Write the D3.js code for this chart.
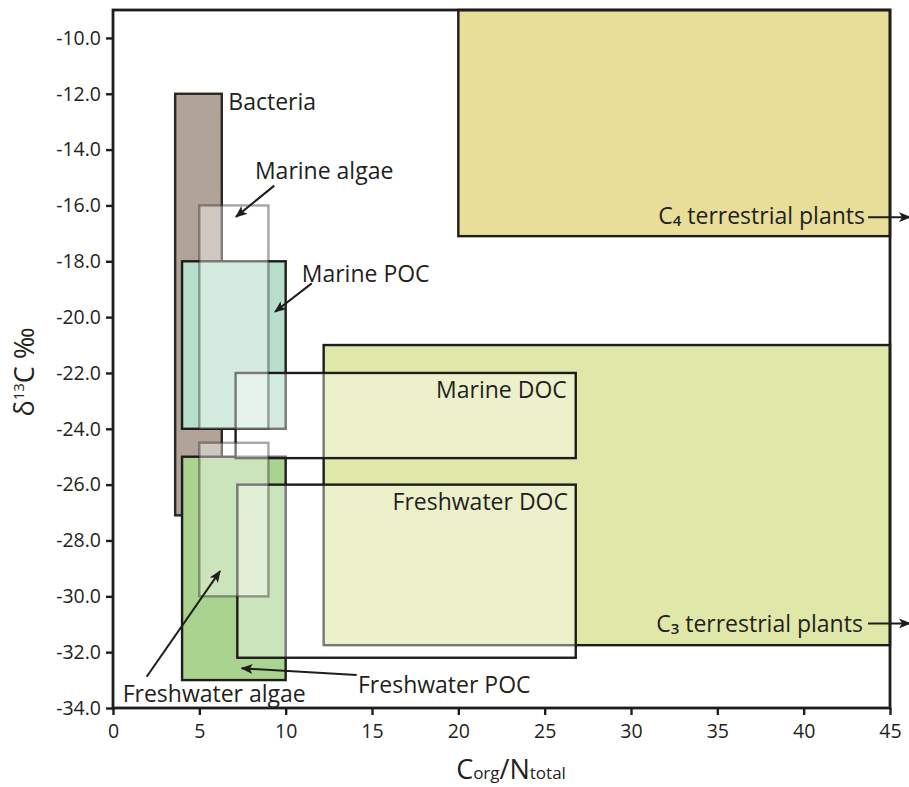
<!DOCTYPE html>
<html>
<head>
<meta charset="utf-8">
<script src="https://cdn.jsdelivr.net/npm/d3@7"></script>
<style>
  body { margin: 0; background: #fff; }
  svg { display: block; }
  text { font-family: "Open Sans", "Noto Sans", sans-serif; fill: #231f20; }
</style>
</head>
<body>
<script>
// Source end-member boxes: C/N range (x) and δ13C range (y), drawn in this order.
const sources  = ["C4 terrestrial plants", "C3 terrestrial plants", "Bacteria", "Marine POC",
                  "Freshwater POC", "Marine DOC", "Freshwater DOC", "Marine algae", "Freshwater algae"];
const cnLow    = [20.0, 12.2, 3.6, 4.0, 4.0, 7.1, 7.2, 5.0, 5.0];
const cnHigh   = [45.0, 45.0, 6.3, 10.0, 10.0, 26.8, 26.8, 9.0, 9.0];
const d13cLow  = [-17.1, -31.75, -27.1, -24.0, -33.0, -25.05, -32.2, -24.0, -30.0];
const d13cHigh = [-9.0, -21.0, -12.0, -18.0, -25.0, -22.0, -26.0, -16.0, -24.5];

// Axis ticks
const xTicks = [0, 5, 10, 15, 20, 25, 30, 35, 40, 45];
const yTicks = [-34, -32, -30, -28, -26, -24, -22, -20, -18, -16, -14, -12, -10];

// Box labels (segments: [text, isSubscript]) anchored in data units
const labelParts  = [[["Bacteria", false]], [["Marine algae", false]], [["Marine POC", false]],
                     [["Marine DOC", false]], [["Freshwater DOC", false]],
                     [["C", false], ["4", true], [" terrestrial plants", false]],
                     [["C", false], ["3", true], [" terrestrial plants", false]],
                     [["Freshwater algae", false]], [["Freshwater POC", false]]];
const labelCN     = [6.68, 8.22, 10.93, 26.28, 26.35, 43.55, 43.43, 0.56, 14.19];
const labelD13C   = [-12.57, -15.06, -18.74, -22.91, -26.91, -16.67, -31.27, -33.77, -33.47];
const labelAnchor = ["start", "start", "start", "end", "end", "end", "end", "start", "start"];

// Pointer arrows: from (cn, δ13C) to (cn, δ13C)
const arrowFromCN   = [9.34, 11.51, 1.95, 14.11, 43.73, 43.73];
const arrowFromD13C = [-15.29, -18.79, -32.88, -32.82, -16.42, -30.97];
const arrowToCN     = [7.12, 9.38, 6.20, 7.45, 46.16, 46.16];
const arrowToD13C   = [-16.41, -19.81, -29.10, -32.58, -16.42, -30.97];

// Box appearance
const boxStyle = {
  "C4 terrestrial plants": { fill: "#e8de9a", opacity: 1, stroke: "#1d1d1b" },
  "C3 terrestrial plants": { fill: "#dfe8a9", opacity: 1, stroke: "#1d1d1b" },
  "Bacteria":              { fill: "#b1a397", opacity: 1, stroke: "#2a2623" },
  "Marine POC":            { fill: "#b7dfcc", opacity: 1, stroke: "#1d1d1b" },
  "Freshwater POC":        { fill: "#a9d38e", opacity: 1, stroke: "#1d1d1b" },
  "Marine DOC":            { fill: "#ffffff", opacity: 0.4, stroke: "#1d1d1b" },
  "Freshwater DOC":        { fill: "#ffffff", opacity: 0.4, stroke: "#1d1d1b" },
  "Marine algae":          { fill: "#ffffff", opacity: 0.4, stroke: "rgba(30,30,30,0.4)" },
  "Freshwater algae":      { fill: "#ffffff", opacity: 0.4, stroke: "rgba(30,30,30,0.4)" }
};

const W = 909, H = 787;
const margin = { left: 113, right: 19, top: 10, bottom: 79 };

const svg = d3.select("body").append("svg").attr("width", W).attr("height", H);

const x = d3.scaleLinear().domain([0, 45]).range([margin.left, W - margin.right]);
const y = d3.scaleLinear().domain([-34, -9]).range([H - margin.bottom, margin.top]);

// Arrowhead
svg.append("defs").append("marker")
  .attr("id", "head")
  .attr("viewBox", "0 0 12 10")
  .attr("refX", 11).attr("refY", 5)
  .attr("markerWidth", 12).attr("markerHeight", 10)
  .attr("markerUnits", "userSpaceOnUse")
  .attr("orient", "auto")
  .append("path")
  .attr("d", "M0,0 L12,5 L0,10 L3,5 Z")
  .attr("fill", "#1d1d1b");

// Boxes
const boxes = sources.map((name, i) => ({
  name, x0: cnLow[i], x1: cnHigh[i], y0: d13cLow[i], y1: d13cHigh[i]
}));

svg.append("g").selectAll("rect").data(boxes).join("rect")
  .attr("x", d => x(d.x0))
  .attr("y", d => y(d.y1))
  .attr("width", d => x(d.x1) - x(d.x0))
  .attr("height", d => y(d.y0) - y(d.y1))
  .attr("fill", d => boxStyle[d.name].fill)
  .attr("fill-opacity", d => boxStyle[d.name].opacity)
  .attr("stroke", d => boxStyle[d.name].stroke)
  .attr("stroke-width", 2.4);

// Axes
const yAxis = d3.axisLeft(y).tickValues(yTicks).tickFormat(d => d.toFixed(1))
  .tickSize(7).tickPadding(5).tickSizeOuter(0);
const xAxis = d3.axisBottom(x).tickValues(xTicks).tickFormat(d => String(d))
  .tickSize(7).tickPadding(9).tickSizeOuter(0);

const gy = svg.append("g").attr("transform", `translate(${margin.left},0)`).call(yAxis);
const gx = svg.append("g").attr("transform", `translate(0,${H - margin.bottom})`).call(xAxis);
[gx, gy].forEach(g => {
  g.select(".domain").remove();
  g.selectAll(".tick line").attr("stroke", "#1d1d1b").attr("stroke-width", 2.4);
  g.selectAll(".tick text").attr("fill", "#231f20")
    .style("font-size", "19.5px").style("font-weight", 500);
});

// Plot frame
svg.append("rect")
  .attr("x", x(0)).attr("y", y(-9))
  .attr("width", x(45) - x(0)).attr("height", y(-34) - y(-9))
  .attr("fill", "none").attr("stroke", "#1d1d1b").attr("stroke-width", 2.8);

// Arrows
svg.append("g").selectAll("line").data(arrowFromCN).join("line")
  .attr("x1", (d, i) => x(arrowFromCN[i]))
  .attr("y1", (d, i) => y(arrowFromD13C[i]))
  .attr("x2", (d, i) => x(arrowToCN[i]))
  .attr("y2", (d, i) => y(arrowToD13C[i]))
  .attr("stroke", "#1d1d1b").attr("stroke-width", 2)
  .attr("marker-end", "url(#head)");

// Labels
const lab = svg.append("g").selectAll("text").data(labelParts).join("text")
  .attr("x", (d, i) => x(labelCN[i]))
  .attr("y", (d, i) => y(labelD13C[i]))
  .attr("text-anchor", (d, i) => labelAnchor[i])
  .style("font-size", "23px");
lab.each(function(parts) {
  const t = d3.select(this);
  parts.forEach(([s, sub]) => {
    t.append("tspan").text(s)
      .style("font-size", sub ? "15px" : null)
      .style("font-weight", sub ? 600 : null)
      .attr("dy", sub ? 2 : (t.selectAll("tspan").size() > 1 ? -2 : null));
  });
});

// Axis titles
const yt = svg.append("text")
  .attr("transform", `translate(34,372) rotate(-90)`)
  .attr("text-anchor", "middle")
  .style("font-size", "27px");
yt.append("tspan").text("δ");
yt.append("tspan").text("13").style("font-size", "15px").attr("dy", -10);
yt.append("tspan").text("C ‰").attr("dy", 10);

const xt = svg.append("text")
  .attr("x", 511).attr("y", 779)
  .attr("text-anchor", "middle")
  .style("font-size", "27px");
xt.append("tspan").text("C");
xt.append("tspan").text("org").style("font-size", "17px");
xt.append("tspan").text("/N");
xt.append("tspan").text("total").style("font-size", "17px");
</script>
</body>
</html>
